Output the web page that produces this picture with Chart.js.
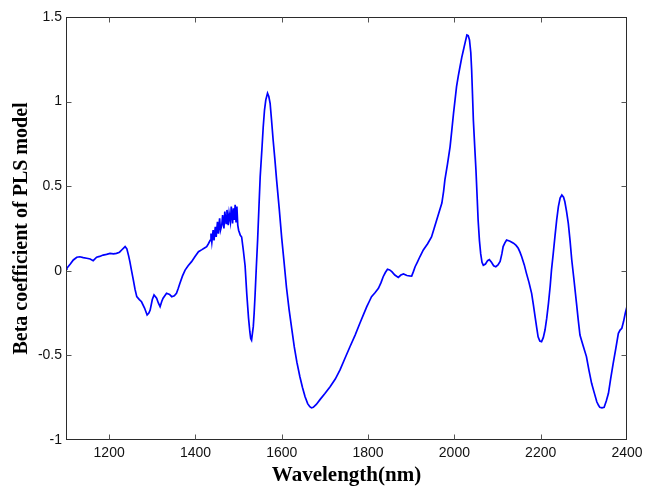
<!DOCTYPE html>
<html>
<head>
<meta charset="utf-8">
<script src="https://cdn.jsdelivr.net/npm/chart.js@4/dist/chart.umd.min.js"></script>
<style>
html,body{margin:0;padding:0;background:#fff;}
#wrap{width:645px;height:486px;position:relative;}
</style>
</head>
<body>
<div id="wrap"><canvas id="c" width="645" height="486"></canvas></div>
<script>
const wavelengths = [1100,1102,1110,1117,1125,1132,1140,1148,1156,1163,1171,1178,1186,1194,1202,1210,1217,1224,1229,1237,1241,1245,1248,1252,1256,1260,1264,1270,1275,1282,1288,1292,1295,1300,1304,1310,1314,1318,1322,1325,1333,1340,1345,1351,1356,1360,1364,1370,1376,1383,1391,1399,1407,1415,1421,1426,1430,1434,1436,1438,1441,1443,1446,1448,1451,1453,1456,1458,1461,1463,1466,1468,1471,1473,1476,1478,1481,1483,1486,1488,1490,1492,1494,1496,1498,1500,1504,1507,1511,1515,1519,1523,1526,1528,1530,1532,1534,1536,1538,1541,1544,1547,1550,1554,1557,1560,1563,1567,1570,1573,1576,1580,1584,1588,1594,1600,1605,1611,1617,1623,1629,1635,1642,1648,1654,1660,1665,1669,1673,1680,1689,1700,1712,1724,1735,1746,1758,1770,1781,1790,1797,1803,1808,1816,1824,1830,1835,1840,1845,1850,1855,1862,1870,1876,1882,1890,1896,1901,1905,1909,1914,1920,1928,1938,1947,1953,1959,1965,1971,1975,1978,1984,1990,1994,1998,2002,2005,2009,2013,2017,2021,2025,2029,2032,2035,2038,2040,2042,2044,2047,2050,2053,2055,2058,2061,2064,2067,2072,2077,2081,2086,2091,2096,2101,2106,2110,2113,2117,2121,2129,2137,2143,2148,2152,2156,2162,2167,2173,2179,2183,2187,2191,2194,2198,2202,2206,2210,2214,2218,2222,2225,2229,2233,2237,2241,2245,2249,2253,2256,2260,2264,2268,2272,2277,2283,2287,2291,2298,2306,2312,2318,2324,2330,2334,2337,2342,2347,2352,2357,2362,2368,2374,2380,2384,2388,2392,2396,2400];
const betaCoefficients = [0.01,0.015,0.04,0.064,0.08,0.083,0.078,0.074,0.07,0.06,0.08,0.085,0.093,0.097,0.103,0.10,0.103,0.11,0.123,0.143,0.13,0.09,0.054,0.0,-0.054,-0.11,-0.153,-0.17,-0.183,-0.22,-0.261,-0.25,-0.232,-0.17,-0.143,-0.162,-0.19,-0.212,-0.18,-0.162,-0.133,-0.14,-0.153,-0.148,-0.133,-0.105,-0.074,-0.03,0.004,0.03,0.054,0.085,0.113,0.125,0.135,0.143,0.16,0.18,0.22,0.17,0.24,0.18,0.26,0.2,0.29,0.22,0.31,0.24,0.27,0.33,0.25,0.35,0.28,0.36,0.27,0.34,0.29,0.38,0.28,0.37,0.3,0.39,0.29,0.38,0.27,0.24,0.21,0.20,0.12,0.03,-0.14,-0.28,-0.36,-0.40,-0.41,-0.37,-0.33,-0.25,-0.15,0.02,0.18,0.37,0.556,0.72,0.85,0.95,1.01,1.049,1.03,0.99,0.9,0.773,0.66,0.537,0.37,0.19,0.06,-0.10,-0.23,-0.34,-0.45,-0.54,-0.626,-0.69,-0.744,-0.785,-0.803,-0.81,-0.807,-0.79,-0.76,-0.725,-0.685,-0.64,-0.586,-0.52,-0.449,-0.38,-0.31,-0.255,-0.212,-0.18,-0.153,-0.13,-0.104,-0.07,-0.035,-0.01,0.009,0.005,-0.005,-0.025,-0.039,-0.025,-0.019,-0.028,-0.03,-0.031,-0.005,0.024,0.05,0.083,0.123,0.16,0.20,0.25,0.30,0.35,0.40,0.47,0.537,0.63,0.733,0.83,0.93,1.02,1.088,1.15,1.206,1.26,1.305,1.35,1.394,1.39,1.364,1.29,1.187,1.04,0.89,0.74,0.596,0.42,0.30,0.18,0.10,0.05,0.033,0.04,0.06,0.066,0.05,0.03,0.024,0.035,0.055,0.10,0.143,0.165,0.182,0.175,0.163,0.15,0.133,0.11,0.083,0.035,-0.015,-0.07,-0.133,-0.2,-0.271,-0.34,-0.39,-0.415,-0.419,-0.395,-0.35,-0.28,-0.192,-0.09,0.004,0.1,0.202,0.3,0.379,0.43,0.448,0.435,0.408,0.35,0.28,0.18,0.064,-0.05,-0.192,-0.29,-0.38,-0.44,-0.507,-0.59,-0.665,-0.72,-0.774,-0.795,-0.807,-0.81,-0.807,-0.77,-0.724,-0.64,-0.547,-0.46,-0.369,-0.35,-0.34,-0.3,-0.251,-0.21];
const xTicks = [1200,1400,1600,1800,2000,2200,2400];
const yTicks = [-1,-0.5,0,0.5,1,1.5];
const xTitle = 'Wavelength(nm)';
const yTitle = 'Beta coefficient of PLS model';

const points = wavelengths.map((w,i)=>({x:w,y:betaCoefficients[i]}));

const framePlugin = {
  id:'frame',
  afterDraw(chart){
    const ctx = chart.ctx, a = chart.chartArea;
    const xs = chart.scales.x, ys = chart.scales.y;
    ctx.save();
    ctx.strokeStyle = '#2b2b2b';
    ctx.lineWidth = 1;
    const L = Math.round(a.left)+0.5, R = Math.round(a.right)-0.5, T = Math.round(a.top)+0.5, B = Math.round(a.bottom)-0.5;
    ctx.strokeRect(L, T, R-L, B-T);
    ctx.strokeStyle = '#555';
    const len = 5;
    ctx.beginPath();
    xs.ticks.forEach(t=>{
      const px = Math.round(xs.getPixelForValue(t.value))+0.5;
      if (px <= L+1 || px >= R-1) return;
      ctx.moveTo(px,B); ctx.lineTo(px,B-len);
      ctx.moveTo(px,T); ctx.lineTo(px,T+len);
    });
    ys.ticks.forEach(t=>{
      const py = Math.round(ys.getPixelForValue(t.value))+0.5;
      if (py <= T+1 || py >= B-1) return;
      ctx.moveTo(L,py); ctx.lineTo(L+len,py);
      ctx.moveTo(R,py); ctx.lineTo(R-len,py);
    });
    ctx.stroke();
    ctx.restore();
  }
};

new Chart(document.getElementById('c'), {
  type:'scatter',
  data:{datasets:[{
    data:points,
    showLine:true,
    borderColor:'#0000ff',
    backgroundColor:'#0000ff',
    borderWidth:1.7,
    pointRadius:0,
    tension:0
  }]},
  options:{
    responsive:false,
    animation:false,
    layout:{padding:{left:0,right:18,top:17,bottom:0}},
    plugins:{legend:{display:false},tooltip:{enabled:false}},
    scales:{
      x:{
        type:'linear',
        min:1100,max:2400,
        afterBuildTicks(s){ s.ticks = xTicks.map(v=>({value:v})); },
        afterFit(s){ s.height = 46; s.paddingRight = 0; },
        grid:{display:false,drawTicks:false},
        border:{display:false},
        ticks:{color:'#111',font:{family:'"Liberation Sans", Arial, sans-serif',size:14},padding:5,maxRotation:0,autoSkip:false,callback:v=>String(v)},
        title:{display:true,text:xTitle,color:'#000',font:{family:'"Liberation Serif","Times New Roman",serif',size:21,weight:'bold',lineHeight:1},padding:{top:0,bottom:0}}
      },
      y:{
        type:'linear',
        min:-1,max:1.5,
        afterBuildTicks(s){ s.ticks = yTicks.map(v=>({value:v})); },
        afterFit(s){ s.width = 66; s.paddingTop = 0; s.paddingBottom = 0; },
        grid:{display:false,drawTicks:false},
        border:{display:false},
        ticks:{color:'#111',font:{family:'"Liberation Sans", Arial, sans-serif',size:14},padding:4,autoSkip:false,callback:v=>String(v)},
        title:{display:true,text:yTitle,color:'#000',font:{family:'"Liberation Serif","Times New Roman",serif',size:20,weight:'bold',lineHeight:1},padding:{top:12,bottom:0}}
      }
    }
  },
  plugins:[framePlugin]
});
</script>
</body>
</html>
